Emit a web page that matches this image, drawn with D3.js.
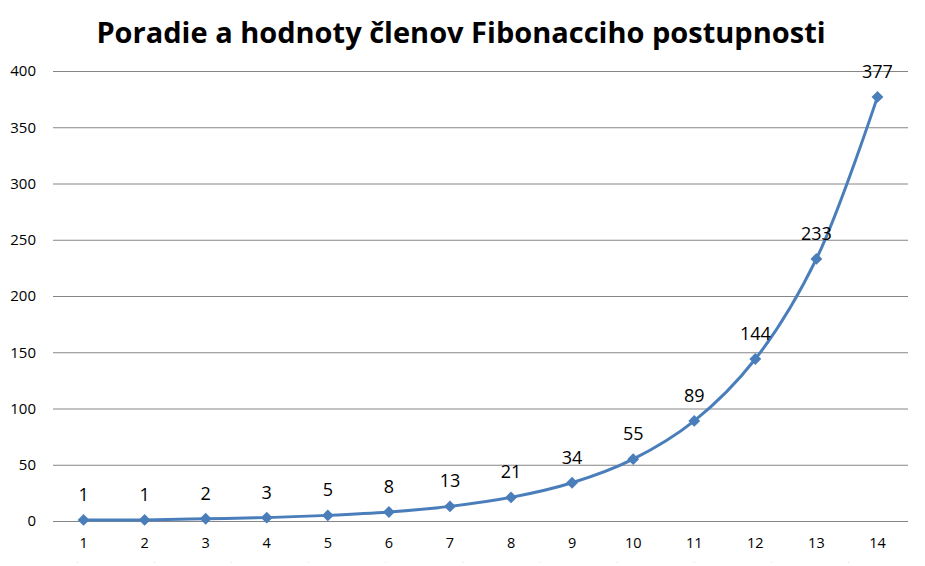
<!DOCTYPE html>
<html><head><meta charset="utf-8">
<script src="https://cdn.jsdelivr.net/npm/d3@7"></script>
<style>body{margin:0;background:#fff}svg{display:block}</style>
</head><body>
<svg id="c" width="925" height="566"></svg>
<script>
const title = "Poradie a hodnoty členov Fibonacciho postupnosti";
const categories = ["1","2","3","4","5","6","7","8","9","10","11","12","13","14"];
const values = [1,1,2,3,5,8,13,21,34,55,89,144,233,377];
const yTicks = [0,50,100,150,200,250,300,350,400];

(function(){
const svg = d3.select("#c");
const mLeft = 53, mRight = 908, mTop = 71, mBottom = 521;
const x = d3.scaleBand().domain(categories).range([mLeft, mRight]);
const y = d3.scaleLinear().domain([0, 400]).range([mBottom, mTop]);
const font = "'Open Sans', 'Segoe UI', sans-serif";

svg.append("text").attr("x", 461).attr("y", 43).attr("text-anchor", "middle")
  .attr("font-family", font).attr("font-weight", "bold").attr("font-size", 29)
  .attr("fill", "#000").text(title);

const yAxis = d3.axisLeft(y).tickValues(yTicks).tickSize(-(mRight - mLeft)).tickPadding(17).tickFormat(d3.format("d"));
const gy = svg.append("g").attr("transform", `translate(${mLeft},0)`).call(yAxis);
gy.select(".domain").remove();
gy.selectAll(".tick line").attr("stroke", "#868686").attr("stroke-width", 1);
gy.selectAll(".tick text").attr("font-family", font).attr("font-size", 15).attr("fill", "#000");

const xAxis = d3.axisBottom(x).tickSize(0).tickPadding(17);
const gx = svg.append("g").attr("transform", `translate(0,${mBottom})`).call(xAxis);
gx.select(".domain").remove();
gx.selectAll(".tick text").attr("font-family", font).attr("font-size", 14.5).attr("fill", "#000");

const marks = d3.scaleLinear().domain([0, 10]).range([77, 848]);
svg.append("g").selectAll("rect").data(d3.range(11)).join("rect")
  .attr("x", d => marks(d)).attr("y", 562).attr("width", 1).attr("height", 1).attr("fill", "#ddd");

const cx = i => x(categories[i]) + x.bandwidth() / 2;
const line = d3.line().x((d, i) => cx(i)).y(d => y(d)).curve(d3.curveCatmullRom.alpha(0.5));
svg.append("path").datum(values).attr("d", line).attr("fill", "none")
  .attr("stroke", "#4a7ebb").attr("stroke-width", 3).attr("stroke-linejoin", "round");

svg.append("g").selectAll("path").data(values).join("path")
  .attr("d", d3.symbol(d3.symbolDiamond2, 90)())
  .attr("transform", (d, i) => `translate(${cx(i)},${y(d)})`)
  .attr("fill", "#4a7ebb");

svg.append("g").selectAll("text").data(values).join("text")
  .attr("x", (d, i) => cx(i)).attr("y", d => y(d) - 19)
  .attr("text-anchor", "middle").attr("font-family", font).attr("font-size", 18)
  .attr("fill", "#000").text(d => d);
})();
</script>
</body></html>
